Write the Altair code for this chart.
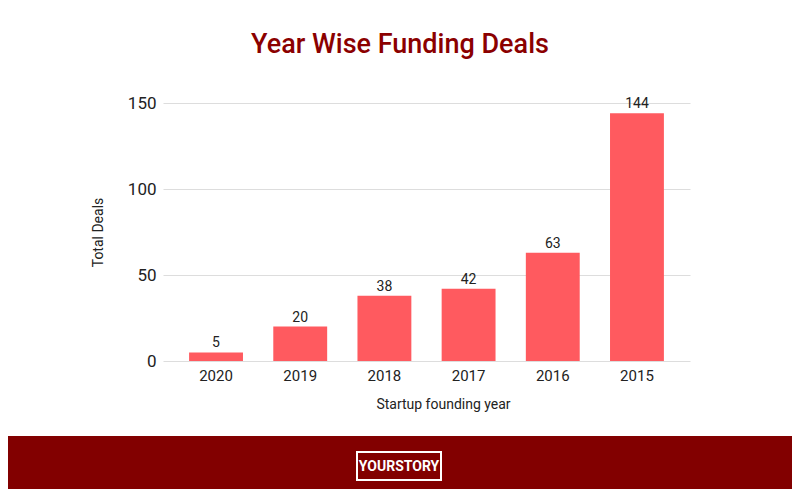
import altair as alt
import pandas as pd

years = ["2020", "2019", "2018", "2017", "2016", "2015"]
deals = [5, 20, 38, 42, 63, 144]
title_text = ["Year Wise Funding Deals"]
brand_text = ["YOURSTORY"]

df = pd.DataFrame({"year": years, "deals": deals})

FONT = "Roboto"
W, H = 527, 258

x_enc = alt.X("year:N", sort=years,
              scale=alt.Scale(paddingInner=0.36, paddingOuter=0.31),
              axis=alt.Axis(title="Startup founding year", labelAngle=0, ticks=False,
                            domain=False, labelFontSize=15, labelColor="#222222",
                            labelPadding=7, titleFontSize=14, titleFontWeight="normal",
                            titleColor="#222222", titlePadding=14, titleX=280,
                            labelFont=FONT, titleFont=FONT))
y_enc = alt.Y("deals:Q",
              scale=alt.Scale(domain=[0, 150], nice=False),
              axis=alt.Axis(title="Total Deals", values=[0, 50, 100, 150], ticks=False,
                            domain=False, labelFontSize=17, labelColor="#222222",
                            labelPadding=7, gridColor="#dddddd", gridWidth=1,
                            titleFontSize=14, titleFontWeight="normal", titleColor="#222222",
                            titlePadding=22, labelFont=FONT, titleFont=FONT))

bars = alt.Chart(df).mark_bar(color="#FF5A5F").encode(x=x_enc, y=y_enc)
labels = alt.Chart(df).mark_text(dy=-9, fontSize=14, color="#222222", font=FONT).encode(
    x=alt.X("year:N", sort=years), y="deals:Q", text="deals:Q")

tdf = pd.DataFrame({"t": title_text})
title = alt.Chart(tdf).mark_text(font=FONT, fontSize=27, fontWeight=500, color="#8B0000",
                                 align="center", baseline="middle").encode(
    x=alt.value(237), y=alt.value(-58), text="t:N")

band = alt.Chart(tdf).mark_rect(color="#820000", clip=False).encode(
    x=alt.value(-160), x2=alt.value(640), y=alt.value(333), y2=alt.value(400))

box = alt.Chart(tdf).mark_rect(fill="#820000", stroke="white", strokeWidth=2, clip=False).encode(
    x=alt.value(194), x2=alt.value(278), y=alt.value(349), y2=alt.value(377))

bdf = pd.DataFrame({"b": brand_text})
brand = alt.Chart(bdf).mark_text(font=FONT, fontSize=14, fontWeight="bold", color="white",
                                 align="center", baseline="middle").encode(
    x=alt.value(236), y=alt.value(363.5), text="b:N")

chart = alt.layer(bars, labels, title, band, box, brand).properties(
    width=W, height=H,
    background="white",
    autosize=alt.AutoSizeParams(type="none"),
    padding={"left": 155, "top": 95, "right": 784 - 155 - W, "bottom": 481 - 95 - H},
).configure_view(strokeWidth=0, stroke=None)

chart.save("out.html", embed_options={"renderer": "svg", "actions": False})
